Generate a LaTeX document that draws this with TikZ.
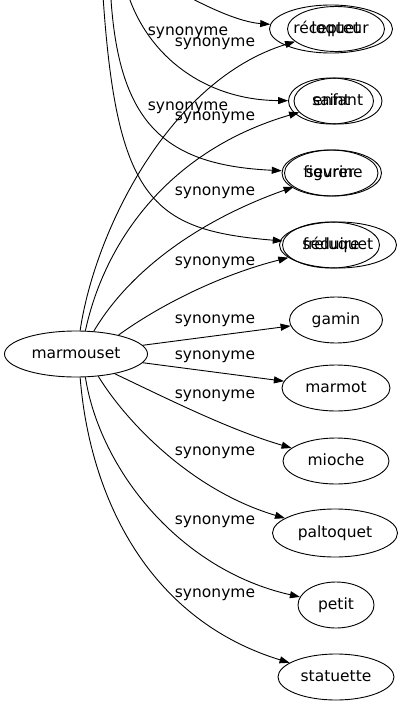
\documentclass[tikz,border=0pt]{standalone}
\usepackage{fontspec}
\setmainfont{DejaVu Sans}
\usetikzlibrary{shapes.geometric, arrows.meta}

\tikzset{
  word/.style={draw, ellipse, inner sep=0pt, minimum height=46pt, text height=11.5pt, text depth=3.5pt},
  lab/.style={inner sep=0pt},
  syn/.style={-{Triangle[length=10pt, width=7pt]}},
}

\begin{document}
\begin{tikzpicture}[x=1pt, y=-1pt, font=\fontsize{15.5}{18}\selectfont, line width=0.9pt]
  \useasboundingbox (0,0) rectangle (405,707);
  \clip (0,0) rectangle (405,707);

  % centre
  \node[word, minimum width=143pt] (marmouset) at (76,354) {marmouset};

  % nodes of the graph above (out of frame)
  \node[word, minimum width=123pt, minimum height=48pt] (recepteur) at (331,29) {récepteur};
  \node[word, minimum width=85pt] (saint) at (331,101) {saint};
  \node[word, minimum width=96pt] (sevrer) at (330,173) {sevrer};
  \node[word, minimum width=97pt] (seduire) at (331,245) {séduire};
  \coordinate (haut1) at (150,-25);
  \coordinate (haut2) at (124,-20);
  \coordinate (haut3) at (110,-20);
  \coordinate (haut4) at (102,-20);

  % synonyms of marmouset
  \node[word, minimum width=97pt, minimum height=45pt] (loquet) at (336,29) {loquet};
  \node[word, minimum width=88pt] (enfant) at (338,101) {enfant};
  \node[word, minimum width=97pt] (figurine) at (333,173) {figurine};
  \node[word, minimum width=117pt] (freluquet) at (338,245) {freluquet};
  \node[word, minimum width=93pt] (gamin) at (336,320) {gamin};
  \node[word, minimum width=108pt] (marmot) at (336,388) {marmot};
  \node[word, minimum width=106pt] (mioche) at (336,461) {mioche};
  \node[word, minimum width=125pt, minimum height=48pt] (paltoquet) at (335,533) {paltoquet};
  \node[word, minimum width=76pt] (petit) at (336,605) {petit};
  \node[word, minimum width=116pt] (statuette) at (336,677) {statuette};

  % edges from above
  \draw[syn] (haut1) .. controls (205,8) and (240,22) .. (recepteur);
  \draw[syn] (haut2) .. controls (140,50) and (200,100) .. (saint);
  \draw[syn] (haut3) .. controls (115,120) and (160,165) .. (sevrer);
  \draw[syn] (haut4) .. controls (115,200) and (150,230) .. (seduire);

  % edges from marmouset
  \draw[syn] (marmouset.80) .. controls (95,230) and (170,80) .. (loquet);
  \draw[syn] (marmouset.68) .. controls (105,240) and (170,150) .. (enfant);
  \draw[syn] (marmouset.52) .. controls (130,270) and (200,220) .. (figurine);
  \draw[syn] (marmouset.24) .. controls (160,305) and (220,275) .. (freluquet);
  \draw[syn] (marmouset) -- (gamin);
  \draw[syn] (marmouset) -- (marmot);
  \draw[syn] (marmouset.-27) .. controls (170,400) and (230,430) .. (mioche);
  \draw[syn] (marmouset.-45) .. controls (125,420) and (190,490) .. (paltoquet);
  \draw[syn] (marmouset.-68) .. controls (100,470) and (180,570) .. (petit);
  \draw[syn] (marmouset.-80) .. controls (90,500) and (150,620) .. (statuette);

  % labels
  \node[lab] (s1) at (188,33) {synonyme};
  \node[lab] (s2) at (215,44) {synonyme};
  \node[lab] (s3) at (188,108) {synonyme};
  \node[lab] (s4) at (215,118) {synonyme};
  \node[lab] (s5) at (215,193) {synonyme};
  \node[lab] (s6) at (215,263) {synonyme};
  \node[lab] (s7) at (215,321) {synonyme};
  \node[lab] (s8) at (215,357) {synonyme};
  \node[lab] (s9) at (215,396) {synonyme};
  \node[lab] (s10) at (215,453) {synonyme};
  \node[lab] (s11) at (215,522) {synonyme};
  \node[lab] (s12) at (215,595) {synonyme};
\end{tikzpicture}
\end{document}
